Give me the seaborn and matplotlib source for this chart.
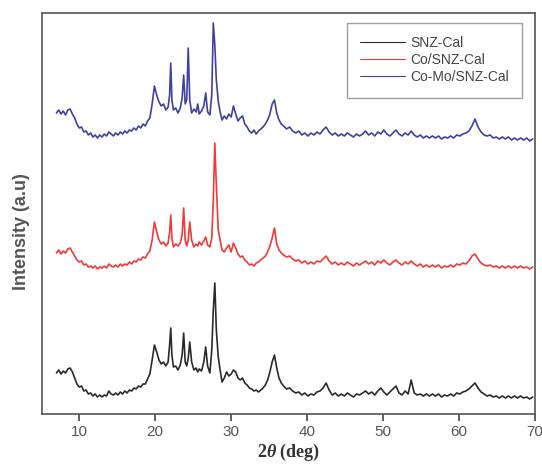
import numpy as np
import pandas as pd
import matplotlib
matplotlib.use("Agg")
import matplotlib.pyplot as plt
import seaborn as sns

# 2-theta positions (deg)
tth = [7.0, 7.3, 7.6, 7.9, 8.2, 8.5, 8.8, 9.1, 9.4, 9.7, 10.0, 10.3, 10.6, 10.9, 11.2, 11.5, 11.8, 12.1, 12.4, 12.7,
       13.0, 13.3, 13.6, 13.9, 14.2, 14.5, 14.8, 15.1, 15.4, 15.7, 16.0, 16.3, 16.6, 16.9, 17.2, 17.5, 17.8, 18.1, 18.4, 18.7,
       19.0, 19.3,
       19.6, 19.9, 20.2, 20.5, 20.8, 21.1, 21.4, 21.7, 21.9, 22.05, 22.2, 22.4, 22.7, 23.0, 23.3, 23.55, 23.75, 23.95, 24.15, 24.35,
       24.55, 24.8, 25.1, 25.4, 25.6, 25.8, 26.1, 26.4, 26.65, 26.9, 27.2, 27.45, 27.65, 27.85, 28.05, 28.3, 28.55, 28.8, 29.1, 29.4,
       29.7, 30.0, 30.3, 30.6, 30.9, 31.2, 31.5, 31.8, 32.1, 32.4, 32.7, 33.0, 33.3, 33.6, 33.9, 34.2, 34.5, 34.8, 35.1, 35.4,
       35.7, 36.0, 36.3, 36.6,
       36.9, 37.3, 37.7, 38.1, 38.5, 38.9, 39.3, 39.7, 40.1, 40.5, 40.9, 41.3, 41.7, 42.1, 42.5, 42.9, 43.3, 43.7, 44.1, 44.5,
       44.9, 45.3, 45.7, 46.1, 46.5, 46.9, 47.3, 47.7, 48.1, 48.5, 48.9, 49.3, 49.7, 50.1, 50.5, 50.9, 51.3, 51.7, 52.1, 52.5,
       52.9, 53.3, 53.7, 54.1, 54.5, 54.9, 55.3, 55.7, 56.1, 56.5, 56.9, 57.3, 57.7, 58.1, 58.5, 58.9, 59.3, 59.7, 60.1, 60.5,
       60.9, 61.3, 61.7, 62.1, 62.5, 62.9, 63.3, 63.7, 64.1, 64.5, 64.9, 65.3, 65.7, 66.1, 66.5, 66.9, 67.3, 67.7, 68.1, 68.5,
       68.9, 69.3, 69.7]

# Intensities (a.u., stacked as shown)
snz_cal = [41, 44, 40, 43, 41, 45, 46, 42, 36, 30, 27, 28, 23, 24, 20, 21, 18, 20, 17, 19,
           17, 19, 18, 23, 20, 19, 21, 19, 22, 20, 23, 21, 24, 23, 26, 25, 28, 27, 30, 30,
           35, 40,
           54, 69, 62, 54, 50, 52, 48, 52, 69, 86, 59, 47, 48, 44, 49, 59, 81, 52, 48, 56,
           72, 52, 44, 46, 42, 45, 43, 52, 67, 48, 41, 64, 104, 131, 84, 57, 44, 32, 36, 42,
           38, 40, 44, 42, 36, 34, 36, 31, 29, 26, 25, 23, 24, 22, 24, 26, 29, 34, 42, 52,
           59, 46, 36, 31,
           28, 25, 26, 23, 21, 22, 19, 21, 18, 20, 19, 22, 23, 26, 31, 24, 19, 21, 18, 20,
           18, 21, 19, 17, 20, 19, 21, 23, 20, 22, 19, 23, 26, 22, 19, 22, 25, 28, 21, 19,
           23, 20, 34, 21, 19, 20, 18, 20, 18, 20, 18, 20, 17, 19, 18, 20, 18, 21, 20, 22,
           23, 25, 28, 31, 26, 22, 20, 18, 19, 17, 18, 16, 18, 16, 18, 16, 18, 16, 18, 16,
           17, 15, 17]

co_snz_cal = [161, 164, 160, 163, 161, 165, 166, 162, 158, 154, 152, 153, 149, 150, 147, 148, 146, 148, 145, 147,
              146, 148, 146, 150, 148, 147, 149, 147, 150, 148, 150, 149, 152, 150, 153, 152, 155, 154, 157, 156,
              160, 163,
              174, 192, 182, 174, 170, 172, 168, 171, 182, 199, 176, 167, 170, 168, 171, 179, 206, 174, 168, 174,
              192, 174, 167, 170, 168, 172, 169, 173, 177, 169, 167, 176, 214, 271, 229, 184, 174, 164, 162, 166,
              169, 162, 171, 166, 160, 157, 158, 154, 152, 149, 150, 148, 151, 152, 154, 156, 158, 162, 168, 176,
              186, 170, 164, 161,
              159, 157, 158, 155, 153, 154, 151, 153, 150, 152, 150, 153, 152, 155, 158, 153, 150, 152, 149, 151,
              149, 152, 150, 148, 151, 149, 151, 153, 150, 152, 149, 153, 151, 154, 151, 149, 152, 154, 151, 149,
              152, 150, 153, 150, 148, 150, 147, 149, 147, 149, 147, 149, 146, 148, 147, 149, 147, 150, 149, 151,
              150, 153, 158, 160, 155, 151, 149, 148, 149, 147, 148, 146, 148, 146, 148, 146, 148, 146, 148, 146,
              147, 145, 147]

co_mo_snz_cal = [301, 304, 300, 303, 299, 304, 305, 300, 296, 290, 286, 287, 282, 283, 279, 281, 277, 279, 276, 279,
                 277, 280, 278, 282, 280, 278, 281, 279, 282, 280, 283, 281, 284, 283, 286, 284, 288, 286, 290, 288,
                 293, 296,
                 310, 328, 319, 312, 308, 310, 304, 307, 319, 351, 314, 304, 306, 301, 306, 316, 339, 310, 314, 366,
                 314, 301, 305, 302, 310, 300, 303, 308, 321, 302, 299, 319, 391, 369, 334, 313, 302, 294, 298, 295,
                 300, 297, 308, 300, 293, 296, 298, 290, 287, 283, 281, 284, 280, 283, 285, 287, 290, 294, 300, 310,
                 314, 301, 294, 290,
                 288, 285, 287, 283, 281, 283, 279, 281, 278, 281, 279, 282, 280, 284, 287, 282, 279, 281, 278, 280,
                 278, 281, 279, 277, 280, 278, 280, 283, 279, 281, 278, 282, 280, 284, 280, 278, 281, 284, 280, 278,
                 281, 279, 283, 279, 277, 279, 276, 278, 276, 278, 276, 278, 275, 277, 276, 278, 276, 279, 278, 280,
                 281, 283, 288, 295, 287, 282, 279, 278, 279, 276, 277, 275, 277, 275, 277, 274, 276, 274, 276, 274,
                 276, 273, 275]

labels = ["SNZ-Cal", "Co/SNZ-Cal", "Co-Mo/SNZ-Cal"]
colors = ["#2a2a2a", "#ee3a3a", "#4040a0"]
x_ticks = [10, 20, 30, 40, 50, 60, 70]

assert len(tth) == len(snz_cal) == len(co_snz_cal) == len(co_mo_snz_cal)

frames = []
for lab, vals in zip(labels, [snz_cal, co_snz_cal, co_mo_snz_cal]):
    frames.append(pd.DataFrame({"tth": tth, "intensity": vals, "sample": lab}))
df = pd.concat(frames, ignore_index=True)

sns.set_style("white")
plt.rcParams["font.family"] = ["Liberation Sans", "DejaVu Sans"]
plt.rcParams["mathtext.fontset"] = "custom"
plt.rcParams["mathtext.it"] = "Liberation Serif:italic:bold"
plt.rcParams["mathtext.rm"] = "Liberation Serif:bold"

fig = plt.figure(figsize=(5.42, 4.67), dpi=100)
ax = fig.add_axes([42 / 542, 1 - 414 / 467, 493 / 542, 401 / 467])

sns.lineplot(data=df, x="tth", y="intensity", hue="sample", hue_order=labels,
             palette=dict(zip(labels, colors)), sort=False, estimator=None,
             linewidth=1.2, ax=ax)

ax.set_xlim(5.1, 70)
ax.set_ylim(0, 401)
ax.set_xticks(x_ticks)
ax.set_xticklabels([str(t) for t in x_ticks])
ax.set_yticks([])
ax.tick_params(axis="x", direction="out", length=5, width=1.2, color="#444444",
               labelsize=11, labelcolor="#555555", pad=3, bottom=True)
for sp in ax.spines.values():
    sp.set_color("#555555")
    sp.set_linewidth(1.2)

ax.set_xlabel(r"2$\mathit{\theta}$ (deg)", fontsize=13, fontfamily="Liberation Serif",
              fontweight="bold", color="#333333", labelpad=2)
ax.set_ylabel("Intensity (a.u)", fontsize=13, fontweight="bold", color="#555555")
ax.yaxis.set_label_coords(-0.024, (414 - 232) / 401)

handles, labs = ax.get_legend_handles_labels()
leg = ax.legend(handles, labs, loc="upper right", bbox_to_anchor=(0.974, 0.975),
                frameon=True, fancybox=False, edgecolor="#888888", fontsize=10,
                handlelength=3.2, labelspacing=0.22, borderpad=0.95, handletextpad=0.4,
                borderaxespad=0)
leg.get_frame().set_linewidth(1.0)
for line in leg.get_lines():
    line.set_linewidth(0.8)
for t in leg.get_texts():
    t.set_color("#444444")

fig.savefig("out.png", dpi=100)
